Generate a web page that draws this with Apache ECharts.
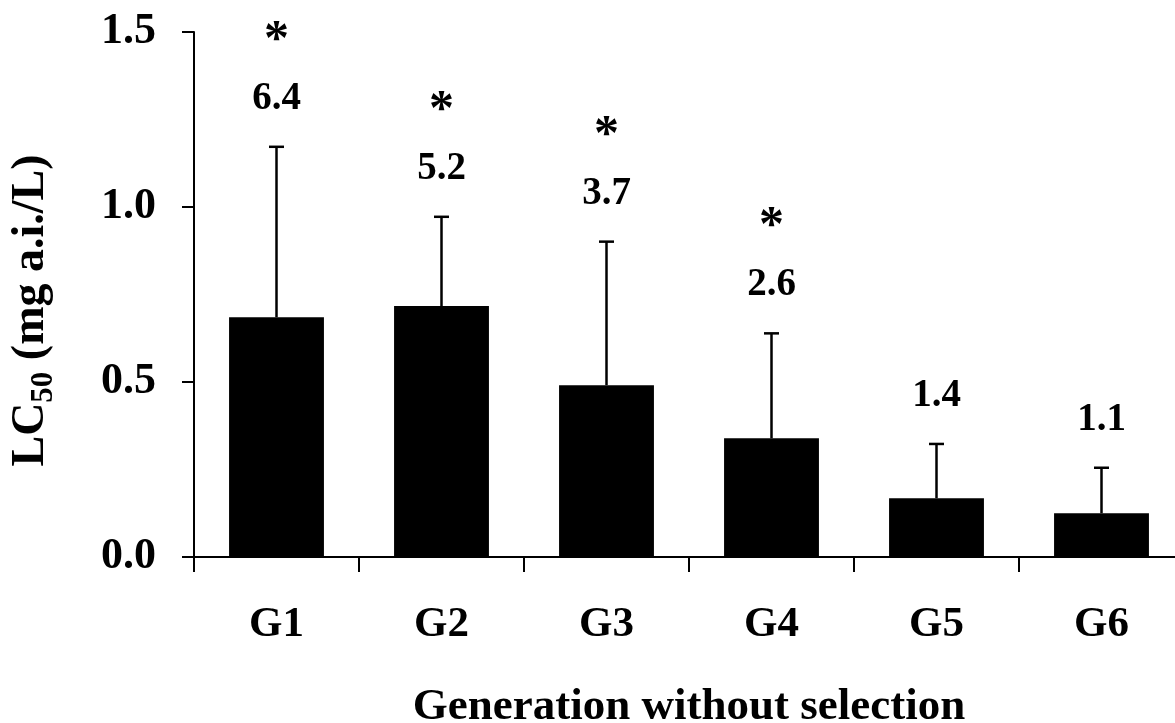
<!DOCTYPE html>
<html>
<head>
<meta charset="utf-8">
<script src="https://cdn.jsdelivr.net/npm/echarts@6/dist/echarts.min.js"></script>
<style>
html,body{margin:0;padding:0;background:#fff;}
#chart{width:1175px;height:723px;}
</style>
</head>
<body>
<div id="chart"></div>
<script>
const categories = ['G1', 'G2', 'G3', 'G4', 'G5', 'G6'];
const lc50Mean = [0.685, 0.717, 0.491, 0.339, 0.168, 0.125];
const lc50Upper = [1.172, 0.972, 0.901, 0.639, 0.323, 0.255];
const ratioLabels = ['6.4', '5.2', '3.7', '2.6', '1.4', '1.1'];
const significant = [true, true, true, true, false, false];

const FONT = '"Liberation Serif", "Times New Roman", serif';

const chart = echarts.init(document.getElementById('chart'), null, {renderer: 'canvas'});

const errData = categories.map((c, i) => [i, lc50Mean[i], lc50Upper[i]]);

chart.setOption({
  backgroundColor: '#fff',
  animation: false,
  grid: {left: 194, top: 32, width: 990, height: 525, containLabel: false, outerBoundsMode: 'none'},
  xAxis: {
    type: 'category',
    data: categories,
    boundaryGap: true,
    name: 'Generation without selection',
    nameLocation: 'middle',
    nameGap: 128,
    nameTextStyle: {fontFamily: FONT, fontWeight: 'bold', fontSize: 45, color: '#000'},
    axisLine: {show: true, lineStyle: {color: '#000', width: 2}},
    axisTick: {show: true, length: 15, inside: false, lineStyle: {color: '#000', width: 2}},
    axisLabel: {margin: 46, fontFamily: FONT, fontWeight: 'bold', fontSize: 43, color: '#000'},
    splitLine: {show: false}
  },
  yAxis: {
    type: 'value',
    min: 0,
    max: 1.5,
    interval: 0.5,
    name: '{b|LC}{s|50}{b| (mg a.i./L)}',
    nameLocation: 'middle',
    nameRotate: 90,
    nameGap: 140,
    nameTextStyle: {
      color: '#000',
      padding: [0, 32, 0, 0],
      rich: {
        b: {fontFamily: FONT, fontWeight: 'bold', fontSize: 46, color: '#000', lineHeight: 50, verticalAlign: 'bottom'},
        s: {fontFamily: FONT, fontWeight: 'bold', fontSize: 31, color: '#000', lineHeight: 50, verticalAlign: 'bottom', padding: [0, 0, -5, 0]}
      }
    },
    axisLine: {show: true, lineStyle: {color: '#000', width: 2}},
    axisTick: {show: true, length: 12, inside: false, lineStyle: {color: '#000', width: 2}},
    axisLabel: {margin: 38, fontFamily: FONT, fontWeight: 'bold', fontSize: 44, color: '#000', formatter: v => v.toFixed(1)},
    splitLine: {show: false}
  },
  series: [
    {
      type: 'bar',
      data: lc50Mean,
      barWidth: '57.5%',
      itemStyle: {color: '#000'},
      z: 2
    },
    {
      type: 'custom',
      data: errData,
      encode: {x: 0, y: [1, 2]},
      z: 3,
      renderItem: function (params, api) {
        const i = api.value(0);
        const base = api.coord([i, api.value(1)]);
        const top = api.coord([i, api.value(2)]);
        const cap = 7.5;
        const lw = 2.5;
        const labelY = top[1] - 48;
        const children = [
          {type: 'line', shape: {x1: top[0], y1: base[1], x2: top[0], y2: top[1]}, style: {stroke: '#000', lineWidth: lw}},
          {type: 'line', shape: {x1: top[0] - cap, y1: top[1], x2: top[0] + cap, y2: top[1]}, style: {stroke: '#000', lineWidth: lw}},
          {type: 'text', style: {text: ratioLabels[i], x: top[0], y: labelY, align: 'center', verticalAlign: 'middle', fontFamily: FONT, fontWeight: 'bold', fontSize: 39, fill: '#000'}}
        ];
        if (significant[i]) {
          children.push({type: 'text', style: {text: '*', x: top[0], y: labelY - 58, align: 'center', verticalAlign: 'middle', fontFamily: FONT, fontWeight: 'bold', fontSize: 50, fill: '#000'}});
        }
        return {type: 'group', children: children};
      }
    }
  ]
});
</script>
</body>
</html>
